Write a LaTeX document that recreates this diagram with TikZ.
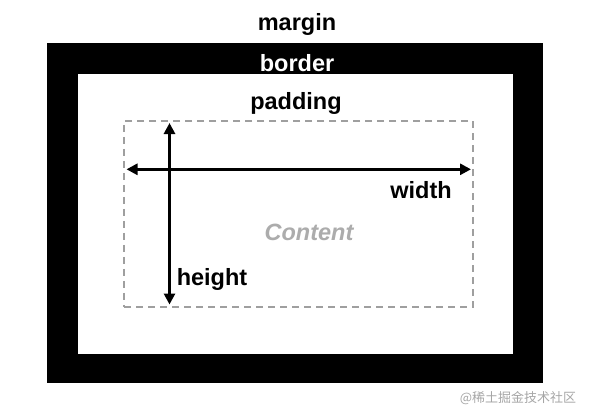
\documentclass[tikz,border=0pt]{standalone}
\usepackage{fontspec}
\setmainfont{Liberation Sans}
\newfontfamily\cjkfont{Noto Sans CJK SC}
\usetikzlibrary{arrows.meta,positioning}

\begin{document}
\begin{tikzpicture}[
    x=1pt, y=-1pt,
    every node/.style={font=\bfseries\fontsize{23.5}{27}\selectfont, align=center},
    area/.style={inner sep=0pt, draw=none},
    contentbox/.style={inner sep=0pt, draw=gray!75, line width=1.8pt, dash pattern=on 7pt off 5pt},
    arrow/.style={line width=3pt, {Triangle[length=11pt,width=11pt]}-{Triangle[length=11pt,width=11pt]}}
  ]
    \useasboundingbox (0,0) rectangle (593,415);

    % Border and padding areas
    \node[area, fill=black, minimum width=496pt, minimum height=340pt] (borderarea) at (294.5,213.2) {};
    \node[area, fill=white, minimum width=435pt, minimum height=280pt] (paddingarea) at (295.2,214) {};
    \node[contentbox, minimum width=349pt, minimum height=186pt] (contentarea) at (298.5,213.8) {};

    % Labels
    \node (margin) at (297,24) {margin};
    \node[text=white] (border) at (297,63) {border};
    \node (padding) at (296,103) {padding};
    \node[text=gray!65, font=\bfseries\itshape\fontsize{23.5}{27}\selectfont] (content) at (309,232) {Content};
    \node (width) at (421,190) {width};
    \node (height) at (212,279) {height};

    % Dimension arrows
    \coordinate (wleft) at (126.5,169.3);
    \coordinate (wright) at (471,169.3);
    \coordinate (htop) at (169.5,123);
    \coordinate (hbottom) at (169.5,304.5);
    \draw[arrow] (wleft) -- (wright);
    \draw[arrow] (htop) -- (hbottom);

    % Watermark
    \node[text=gray!70, font=\cjkfont\fontsize{13}{15}\selectfont] (mark) at (518,398) {@稀土掘金技术社区};
\end{tikzpicture}
\end{document}
